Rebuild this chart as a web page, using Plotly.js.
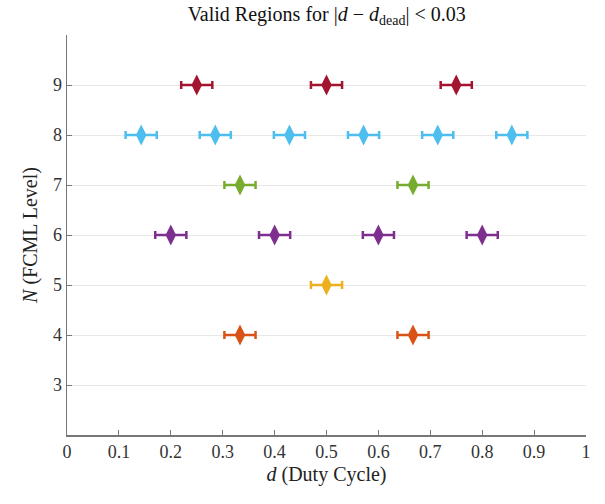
<!DOCTYPE html>
<html>
<head>
<meta charset="utf-8">
<script src="https://cdn.plot.ly/plotly-3.0.1.min.js"></script>
<style>html,body{margin:0;padding:0;background:#fff;}#chart{width:605px;height:504px;}</style>
</head>
<body>
<div id="chart"></div>
<script>
// FCML levels and valid duty cycles
const levels = [4, 5, 6, 7, 8, 9];
const dutyN4 = [0.3333, 0.6667];
const dutyN5 = [0.5];
const dutyN6 = [0.2, 0.4, 0.6, 0.8];
const dutyN7 = [0.3333, 0.6667];
const dutyN8 = [0.1429, 0.2857, 0.4286, 0.5714, 0.7143, 0.8571];
const dutyN9 = [0.25, 0.5, 0.75];
const tolerance = 0.03;
const colors = ['#D95319', '#EDB120', '#7E2F8E', '#77AC30', '#4DBEEE', '#A2142F'];
const xTicks = [0, 0.1, 0.2, 0.3, 0.4, 0.5, 0.6, 0.7, 0.8, 0.9, 1];
const xTickLabels = ['0', '0.1', '0.2', '0.3', '0.4', '0.5', '0.6', '0.7', '0.8', '0.9', '1'];
const yTicks = [3, 4, 5, 6, 7, 8, 9];

const duties = [dutyN4, dutyN5, dutyN6, dutyN7, dutyN8, dutyN9];
const font = '"Liberation Serif", serif';

const traces = levels.map((N, i) => ({
  type: 'scatter',
  mode: 'markers',
  x: duties[i],
  y: duties[i].map(() => N),
  error_x: {type: 'constant', value: tolerance, color: colors[i], thickness: 2.5, width: 4},
  marker: {symbol: 'diamond-tall', size: 15, color: colors[i], line: {width: 0}},
  showlegend: false,
  hoverinfo: 'x+y'
}));

const layout = {
  width: 605, height: 504,
  margin: {l: 67, r: 19, t: 35, b: 69},
  paper_bgcolor: '#fff', plot_bgcolor: '#fff',
  font: {family: font, color: '#262626', size: 18},
  title: {
    text: 'Valid Regions for |<i>d</i> − <i>d</i><sub>dead</sub>| < 0.03',
    font: {family: font, size: 20, color: '#111'},
    x: 0.54, xanchor: 'center', y: 0.972, yanchor: 'middle'
  },
  xaxis: {
    range: [0, 1], tickvals: xTicks, ticktext: xTickLabels,
    ticks: 'inside', ticklen: 5, tickcolor: '#777', tickwidth: 1,
    showline: true, linecolor: '#777', linewidth: 1.5,
    showgrid: false, zeroline: false,
    tickfont: {family: font, size: 18, color: '#333'},
    title: {text: '<i>d</i> (Duty Cycle)', font: {family: font, size: 20, color: '#222'}, standoff: 6}
  },
  yaxis: {
    range: [2, 10], tickvals: yTicks, ticktext: yTicks.map(String),
    ticks: 'inside', ticklen: 5, tickcolor: '#777', tickwidth: 1,
    showline: true, linecolor: '#777', linewidth: 1.5,
    showgrid: true, gridcolor: '#e8e8e8', gridwidth: 1,
    zeroline: false,
    tickfont: {family: font, size: 18, color: '#333'},
    title: {text: '<i>N</i> (FCML Level)', font: {family: font, size: 20, color: '#222'}, standoff: 10}
  }
};

Plotly.newPlot('chart', traces, layout, {displayModeBar: false, staticPlot: true});
</script>
</body>
</html>
